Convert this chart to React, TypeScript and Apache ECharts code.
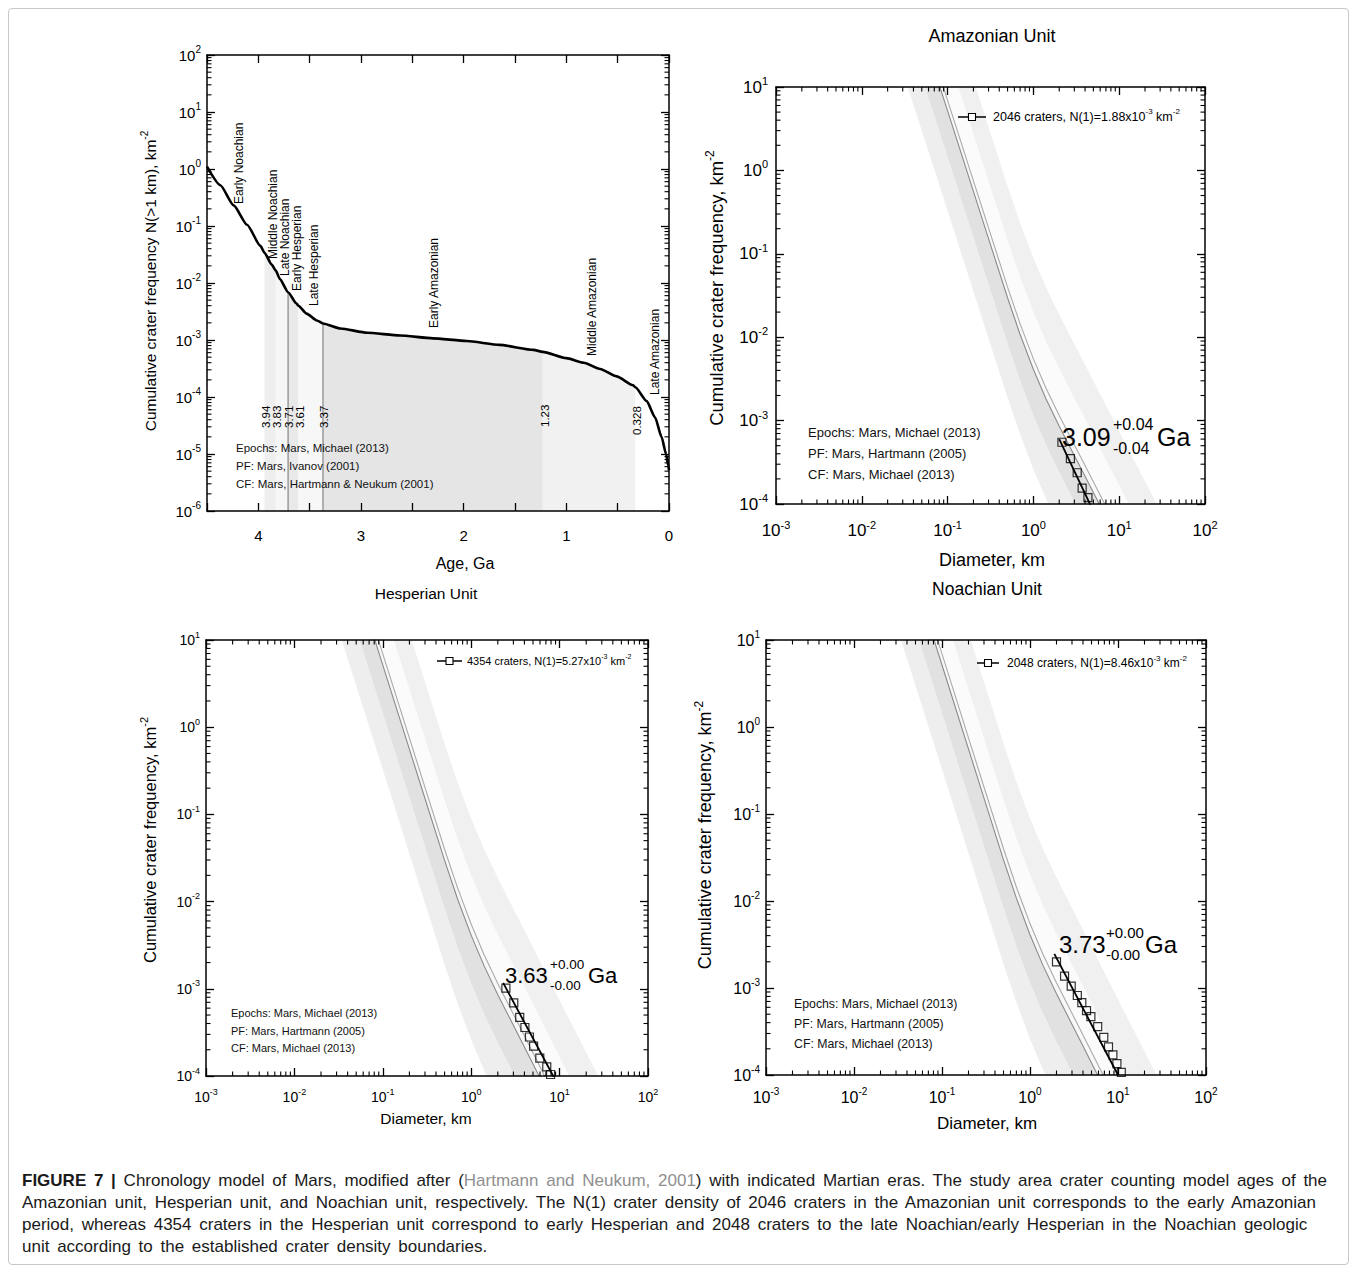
import React, { useEffect, useRef } from "react";
import * as echarts from "echarts";

const FONT = "'Liberation Sans', Arial, Helvetica, sans-serif";

// ---------------- Panel A: chronology model ----------------
const CHRONO_AGE = [4.5, 4.37, 4.24, 4.11, 3.98, 3.94, 3.87, 3.83, 3.79, 3.71, 3.63, 3.61, 3.53, 3.43, 3.37, 3.2, 2.94, 2.62, 2.3, 1.97, 1.65, 1.32, 1.23, 1.0, 0.83, 0.67, 0.51, 0.35, 0.328, 0.217, 0.136, 0.071, 0.029, 0.007, 0];
const CHRONO_N = [1.1, 0.52, 0.23, 0.105, 0.045, 0.034, 0.021, 0.0165, 0.0117, 0.0069, 0.0044, 0.004, 0.0029, 0.0022, 0.00195, 0.00159, 0.00134, 0.0012, 0.00107, 0.00096, 0.00082, 0.00067, 0.00062, 0.00048, 0.0004, 0.00031, 0.00023, 0.000161, 0.000148, 0.000085, 0.000044, 0.0000196, 0.00001, 0.0000063, 0.0000052];
const EPOCH_BOUNDS = [3.94, 3.83, 3.71, 3.61, 3.37, 1.23, 0.328];
const EPOCH_FILLS = ["#eeeeee", "#f6f6f6", "#e9e9e9", "#f7f7f7", "#e5e5e5", "#f1f1f1"];
const EPOCH_LINE_AGES = [3.71, 3.37];
const EPOCH_NAMES = ["Early Noachian", "Middle Noachian", "Late Noachian", "Early Hesperian", "Late Hesperian", "Early Amazonian", "Middle Amazonian", "Late Amazonian"];
const BOUND_LABELS = ["3.94", "3.83", "3.71", "3.61", "3.37", "1.23", "0.328"];
const CHRONO_NOTES = ["Epochs: Mars, Michael (2013)", "PF: Mars, Ivanov (2001)", "CF: Mars, Hartmann & Neukum (2001)"];

// ---------------- Isochron shading (diameter panels) ----------------
const PF_D = [0.01, 0.03, 0.1, 0.3, 0.5, 0.7, 1, 1.4, 2, 4, 10, 30, 100];
const PF_LOG_REL = [6.3, 4.77, 3.1, 1.57, 0.86, 0.42, 0, -0.35, -0.68, -1.28, -2.08, -3.03, -4.08];
const ISO_N1 = [2.6e-4, 1.15e-3, 4.1e-3, 5.5e-3, 2.0e-2, 8.9e-2];
const ISO_FILLS = ["#eeeeee", "#e1e1e1", "#f8f8f8", "#fbfbfb", "#f0f0f0"];
const ISO_LINE_N1 = [4.1e-3, 5.5e-3];
const ISO_LINE_COLORS = ["#8a8a8a", "#aaaaaa"];

// ---------------- Crater counts ----------------
const AMZ_D = [2.15, 2.7, 3.24, 3.7, 4.32];
const AMZ_N = [5.5e-4, 3.5e-4, 2.37e-4, 1.55e-4, 1.19e-4];
const AMZ_FIT_D = [2.0, 4.6];
const AMZ_FIT_N = [6.0e-4, 9.8e-5];

const HES_D = [2.47, 3.03, 3.54, 4.05, 4.56, 5.08, 5.97, 7.16, 7.9];
const HES_N = [1.02e-3, 6.9e-4, 4.7e-4, 3.6e-4, 2.8e-4, 2.2e-4, 1.6e-4, 1.27e-4, 1.04e-4];
const HES_FIT_D = [2.3, 8.7];
const HES_FIT_N = [1.17e-3, 9.5e-5];

const NOA_D = [2.0, 2.47, 2.94, 3.45, 3.88, 4.39, 4.92, 5.88, 6.89, 7.8, 8.75, 9.72, 10.9];
const NOA_N = [2.0e-3, 1.37e-3, 1.05e-3, 8.2e-4, 6.8e-4, 5.5e-4, 4.7e-4, 3.6e-4, 2.7e-4, 2.1e-4, 1.7e-4, 1.35e-4, 1.07e-4];
const NOA_FIT_D = [1.89, 10.0];
const NOA_FIT_N = [2.47e-3, 1.0e-4];

const UNIT_TITLES = ["Amazonian Unit", "Hesperian Unit", "Noachian Unit"];
const UNIT_LEGENDS = [
  "2046 craters, N(1)=1.88x10{s|-3} km{s|-2}",
  "4354 craters, N(1)=5.27x10{s|-3} km{s|-2}",
  "2048 craters, N(1)=8.46x10{s|-3} km{s|-2}",
];
const UNIT_AGES = ["3.09", "3.63", "3.73"];
const UNIT_ERR_UP = ["+0.04", "+0.00", "+0.00"];
const UNIT_ERR_DN = ["-0.04", "-0.00", "-0.00"];
const UNIT_NOTES = ["Epochs: Mars, Michael (2013)", "PF: Mars, Hartmann (2005)", "CF: Mars, Michael (2013)"];

// ---------------- Layout (page pixels) ----------------
const L_CHRONO = {
  left: 207, top: 55, right: 669, bottom: 511, tickFs: 15, xMargin: 17, yMargin: 6,
  xname: { x: 465, y: 563, fs: 16 }, yname: { x: 150, y: 281, fs: 15.5 },
  notes: { x: 236, y0: 448, dy: 18, fs: 11.5 },
  epochPos: [[239, 204], [273, 259], [285, 276], [297, 291], [314, 306], [434, 328], [592, 356], [655, 395]],
  boundPos: [[266, 428], [277, 428], [289, 428], [300, 428], [324, 428], [545, 427], [637, 435]],
  epochFs: 12, boundFs: 11.5,
};
const L_UNITS = [
  {
    left: 776, top: 87, right: 1205, bottom: 504, tickFs: 17, xMargin: 15, yMargin: 8,
    title: { x: 992, y: 36, fs: 18 }, xname: { x: 992, y: 560, fs: 18 }, yname: { x: 716, y: 288, fs: 18.5 },
    notes: { x: 808, y0: 432, dy: 21, fs: 13 },
    legend: { x0: 958, x1: 986, y: 117, tx: 993, fs: 12.5 },
    age: { x: 1062, y: 437, fs: 25, ex: 1113, eup: 424, edn: 448, efs: 16, gx: 1157 },
  },
  {
    left: 206, top: 640, right: 648, bottom: 1076, tickFs: 14, xMargin: 11, yMargin: 6,
    title: { x: 426, y: 593, fs: 15.5 }, xname: { x: 426, y: 1118, fs: 15.5 }, yname: { x: 150, y: 840, fs: 16.5 },
    notes: { x: 231, y0: 1013, dy: 17.5, fs: 11 },
    legend: { x0: 437, x1: 462, y: 661, tx: 467, fs: 11 },
    age: { x: 505, y: 975, fs: 22, ex: 550, eup: 964, edn: 985, efs: 13.5, gx: 588 },
  },
  {
    left: 766, top: 640, right: 1206, bottom: 1075, tickFs: 16, xMargin: 11, yMargin: 6,
    title: { x: 987, y: 589, fs: 17.5 }, xname: { x: 987, y: 1123, fs: 17 }, yname: { x: 705, y: 835, fs: 18 },
    notes: { x: 794, y0: 1004, dy: 20, fs: 12.3 },
    legend: { x0: 977, x1: 999, y: 663, tx: 1007, fs: 12 },
    age: { x: 1059, y: 944, fs: 24, ex: 1106, eup: 932, edn: 954, efs: 15, gx: 1145 },
  },
];

const AXLINE = { show: true, onZero: false, lineStyle: { color: "#000", width: 1.5 } };
const majorTick = (len: number) => ({ show: true, inside: true, length: len, lineStyle: { color: "#000", width: 1.3 } });

function richFor(fs: number) {
  const sfs = Math.round(fs * 0.64);
  return {
    b: { fontSize: fs, fontFamily: FONT, color: "#000", lineHeight: fs + 6 },
    s: { fontSize: sfs, fontFamily: FONT, color: "#000", verticalAlign: "top", lineHeight: sfs },
  };
}
function zRich(fs: number) {
  const sfs = Math.round(fs * 0.64);
  return { s: { fontSize: sfs, fontFamily: FONT, fill: "#000", verticalAlign: "top", lineHeight: sfs } };
}
const powLabel = (v: number) => `{b|10}{s|${Math.round(Math.log10(v))}}`;

function logAxis(gi: number, pos: string, min: number, max: number, fs: number, showLabel: boolean, margin: number) {
  return {
    type: "log", logBase: 10, gridIndex: gi, position: pos, min, max, interval: 1, z: 10,
    axisLine: AXLINE, axisTick: majorTick(8), splitLine: { show: false }, minorTick: { show: false },
    axisLabel: showLabel ? { show: true, formatter: powLabel, rich: richFor(fs), margin } : { show: false },
  };
}

function minorValues(e0: number, e1: number) {
  const out: number[] = [];
  for (let e = e0; e < e1; e++) for (let m = 2; m <= 9; m++) out.push(m * Math.pow(10, e));
  return out;
}

function minorTicksY(ai: number, xAt: number, values: number[]) {
  return {
    type: "custom", xAxisIndex: ai, yAxisIndex: ai, silent: true, z: 20,
    data: values.map((v) => [xAt, v]),
    renderItem: (params: any, api: any) => {
      const cs = params.coordSys;
      const y = api.coord([api.value(0), api.value(1)])[1];
      return {
        type: "group",
        children: [
          { type: "line", shape: { x1: cs.x, y1: y, x2: cs.x + 4.5, y2: y }, style: { stroke: "#000", lineWidth: 1.1 } },
          { type: "line", shape: { x1: cs.x + cs.width, y1: y, x2: cs.x + cs.width - 4.5, y2: y }, style: { stroke: "#000", lineWidth: 1.1 } },
        ],
      };
    },
  };
}
function minorTicksX(ai: number, yAt: number, values: number[]) {
  return {
    type: "custom", xAxisIndex: ai, yAxisIndex: ai, silent: true, z: 20,
    data: values.map((v) => [v, yAt]),
    renderItem: (params: any, api: any) => {
      const cs = params.coordSys;
      const x = api.coord([api.value(0), api.value(1)])[0];
      return {
        type: "group",
        children: [
          { type: "line", shape: { x1: x, y1: cs.y + cs.height, x2: x, y2: cs.y + cs.height - 4.5 }, style: { stroke: "#000", lineWidth: 1.1 } },
          { type: "line", shape: { x1: x, y1: cs.y, x2: x, y2: cs.y + 4.5 }, style: { stroke: "#000", lineWidth: 1.1 } },
        ],
      };
    },
  };
}

const isoPoints = (n1: number) => PF_D.map((d, k) => [d, n1 * Math.pow(10, PF_LOG_REL[k])]);

function text(x: number, y: number, t: string, fs: number, o: any = {}) {
  return {
    type: "text", x, y, rotation: o.rot || 0, z: 100, silent: true,
    style: {
      text: t, fontSize: fs, fontFamily: FONT, fill: o.fill || "#000",
      align: o.align || "left", verticalAlign: o.va || "middle",
      lineHeight: o.rich ? fs + 6 : undefined, rich: o.rich,
    },
  };
}

function buildOption() {
  const grid: any[] = [];
  const xAxis: any[] = [];
  const yAxis: any[] = [];
  const series: any[] = [];
  const graphic: any[] = [];

  // ---- Panel A ----
  const C = L_CHRONO;
  grid.push({ left: C.left, top: C.top, width: C.right - C.left, height: C.bottom - C.top });
  const ageAxis = {
    type: "value", gridIndex: 0, min: 0, max: 4.5, interval: 0.5, inverse: true, z: 10,
    axisLine: AXLINE, axisTick: majorTick(8), splitLine: { show: false },
  };
  xAxis.push({
    ...ageAxis, position: "bottom",
    axisLabel: {
      show: true, fontSize: C.tickFs, fontFamily: FONT, color: "#000", margin: C.xMargin,
      formatter: (v: number) => (Math.abs(v - Math.round(v)) < 1e-6 ? String(Math.round(v)) : ""),
    },
  });
  xAxis.push({ ...ageAxis, position: "top", axisLabel: { show: false } });
  yAxis.push(logAxis(0, "left", 1e-6, 100, C.tickFs, true, C.yMargin));
  yAxis.push(logAxis(0, "right", 1e-6, 100, C.tickFs, false, 0));

  const chronoPts = CHRONO_AGE.map((a, i) => [a, CHRONO_N[i]]);
  EPOCH_FILLS.forEach((col, i) => {
    const older = EPOCH_BOUNDS[i];
    const younger = EPOCH_BOUNDS[i + 1];
    series.push({
      type: "line", xAxisIndex: 0, yAxisIndex: 0, z: 1, silent: true, symbol: "none",
      smooth: 0.2, smoothMonotone: "x",
      data: chronoPts.filter((p) => p[0] <= older + 1e-9 && p[0] >= younger - 1e-9),
      lineStyle: { width: 0, opacity: 0 },
      areaStyle: { color: col, opacity: 1, origin: "start" },
    });
  });
  EPOCH_LINE_AGES.forEach((a) => {
    const n = CHRONO_N[CHRONO_AGE.indexOf(a)];
    series.push({
      type: "line", xAxisIndex: 0, yAxisIndex: 0, z: 2, silent: true, symbol: "none",
      data: [[a, 1e-6], [a, n]], lineStyle: { color: "#9a9a9a", width: 1.5 },
    });
  });
  series.push({
    type: "line", xAxisIndex: 0, yAxisIndex: 0, z: 3, silent: true, symbol: "none",
    smooth: 0.2, smoothMonotone: "x", data: chronoPts, lineStyle: { color: "#000", width: 2.6 },
  });
  series.push(minorTicksY(0, 1, minorValues(-6, 2)));

  graphic.push(text(C.xname.x, C.xname.y, "Age, Ga", C.xname.fs, { align: "center" }));
  graphic.push(text(C.yname.x, C.yname.y, "Cumulative crater frequency N(>1 km), km{s|-2}", C.yname.fs, { align: "center", rot: Math.PI / 2, rich: zRich(C.yname.fs) }));
  CHRONO_NOTES.forEach((t, i) => graphic.push(text(C.notes.x, C.notes.y0 + i * C.notes.dy, t, C.notes.fs, { fill: "#111" })));
  EPOCH_NAMES.forEach((t, i) => graphic.push(text(C.epochPos[i][0], C.epochPos[i][1], t, C.epochFs, { rot: Math.PI / 2 })));
  BOUND_LABELS.forEach((t, i) => graphic.push(text(C.boundPos[i][0], C.boundPos[i][1], t, C.boundFs, { rot: Math.PI / 2 })));

  // ---- Diameter panels ----
  const unitD = [AMZ_D, HES_D, NOA_D];
  const unitN = [AMZ_N, HES_N, NOA_N];
  const unitFitD = [AMZ_FIT_D, HES_FIT_D, NOA_FIT_D];
  const unitFitN = [AMZ_FIT_N, HES_FIT_N, NOA_FIT_N];

  L_UNITS.forEach((L, u) => {
    const gi = u + 1;
    const ai = gi * 2;
    grid.push({ left: L.left, top: L.top, width: L.right - L.left, height: L.bottom - L.top });
    xAxis.push(logAxis(gi, "bottom", 1e-3, 100, L.tickFs, true, L.xMargin));
    xAxis.push(logAxis(gi, "top", 1e-3, 100, L.tickFs, false, 0));
    yAxis.push(logAxis(gi, "left", 1e-4, 10, L.tickFs, true, L.yMargin));
    yAxis.push(logAxis(gi, "right", 1e-4, 10, L.tickFs, false, 0));

    series.push({
      type: "custom", xAxisIndex: ai, yAxisIndex: ai, silent: true, z: 1, clip: true,
      data: ISO_FILLS.map(() => [1, 1]),
      renderItem: (params: any, api: any) => {
        const cs = params.coordSys;
        const i = params.dataIndex;
        const lo = isoPoints(ISO_N1[i]).map((p) => api.coord(p));
        const hi = isoPoints(ISO_N1[i + 1]).map((p) => api.coord(p)).reverse();
        return {
          type: "polygon", shape: { points: lo.concat(hi) }, style: { fill: ISO_FILLS[i] },
          clipPath: { type: "rect", shape: { x: cs.x, y: cs.y, width: cs.width, height: cs.height } },
        };
      },
    });
    ISO_LINE_N1.forEach((n1, k) => {
      series.push({
        type: "line", xAxisIndex: ai, yAxisIndex: ai, z: 2, silent: true, symbol: "none",
        data: isoPoints(n1), lineStyle: { color: ISO_LINE_COLORS[k], width: 1.1 },
      });
    });
    series.push({
      type: "line", xAxisIndex: ai, yAxisIndex: ai, z: 3, silent: true, symbol: "none",
      data: unitFitD[u].map((d, i) => [d, unitFitN[u][i]]), lineStyle: { color: "#000", width: 1.8 },
    });
    series.push({
      type: "scatter", xAxisIndex: ai, yAxisIndex: ai, z: 4, silent: true, symbol: "rect", symbolSize: 8,
      data: unitD[u].map((d, i) => [d, unitN[u][i]]),
      itemStyle: { color: "rgba(255,255,255,0)", borderColor: "#000", borderWidth: 1.2 },
    });
    series.push(minorTicksX(ai, 1e-4, minorValues(-3, 2)));
    series.push(minorTicksY(ai, 1e-3, minorValues(-4, 1)));

    graphic.push(text(L.title.x, L.title.y, UNIT_TITLES[u], L.title.fs, { align: "center" }));
    graphic.push(text(L.xname.x, L.xname.y, "Diameter, km", L.xname.fs, { align: "center" }));
    graphic.push(text(L.yname.x, L.yname.y, "Cumulative crater frequency, km{s|-2}", L.yname.fs, { align: "center", rot: Math.PI / 2, rich: zRich(L.yname.fs) }));
    UNIT_NOTES.forEach((t, i) => graphic.push(text(L.notes.x, L.notes.y0 + i * L.notes.dy, t, L.notes.fs, { fill: "#111" })));
    graphic.push({ type: "line", z: 100, silent: true, shape: { x1: L.legend.x0, y1: L.legend.y, x2: L.legend.x1, y2: L.legend.y }, style: { stroke: "#000", lineWidth: 1.5 } });
    const mx = (L.legend.x0 + L.legend.x1) / 2;
    graphic.push({ type: "rect", z: 101, silent: true, shape: { x: mx - 3.5, y: L.legend.y - 3.5, width: 7, height: 7 }, style: { fill: "#fff", stroke: "#000", lineWidth: 1.1 } });
    graphic.push(text(L.legend.tx, L.legend.y, UNIT_LEGENDS[u], L.legend.fs, { rich: zRich(L.legend.fs) }));
    graphic.push(text(L.age.x, L.age.y, UNIT_AGES[u], L.age.fs));
    graphic.push(text(L.age.ex, L.age.eup, UNIT_ERR_UP[u], L.age.efs));
    graphic.push(text(L.age.ex, L.age.edn, UNIT_ERR_DN[u], L.age.efs));
    graphic.push(text(L.age.gx, L.age.y, "Ga", L.age.fs));
  });

  return { animation: false, backgroundColor: "transparent", grid, xAxis, yAxis, series, graphic };
}

const CAPTION_LINK = "Hartmann and Neukum, 2001";

export default function App() {
  const ref = useRef<HTMLDivElement>(null);
  useEffect(() => {
    if (!ref.current) return;
    const chart = echarts.init(ref.current, undefined, { renderer: "svg" });
    chart.setOption(buildOption() as any);
    return () => chart.dispose();
  }, []);
  return (
    <div style={{ position: "relative", width: 1341, height: 1257, fontFamily: FONT }}>
      <div style={{ position: "absolute", left: 0, top: 0, width: 1341, height: 1257, border: "1px solid #c8c8c8", borderRadius: 4, boxSizing: "border-box" }} />
      <div ref={ref} style={{ position: "absolute", left: -8, top: -8, width: 1357, height: 1150 }} />
      <div style={{ position: "absolute", left: 14, top: 1162, fontSize: 17, lineHeight: "22px", wordSpacing: 3, color: "#1a1a1a", whiteSpace: "nowrap" }}>
        <div>
          <b>FIGURE 7 |</b> Chronology model of Mars, modified after (<span style={{ color: "#8f8f8f" }}>{CAPTION_LINK}</span>) with indicated Martian eras. The study area crater counting model ages of the
        </div>
        <div>Amazonian unit, Hesperian unit, and Noachian unit, respectively. The N(1) crater density of 2046 craters in the Amazonian unit corresponds to the early Amazonian</div>
        <div>period, whereas 4354 craters in the Hesperian unit correspond to early Hesperian and 2048 craters to the late Noachian/early Hesperian in the Noachian geologic</div>
        <div>unit according to the established crater density boundaries.</div>
      </div>
    </div>
  );
}
